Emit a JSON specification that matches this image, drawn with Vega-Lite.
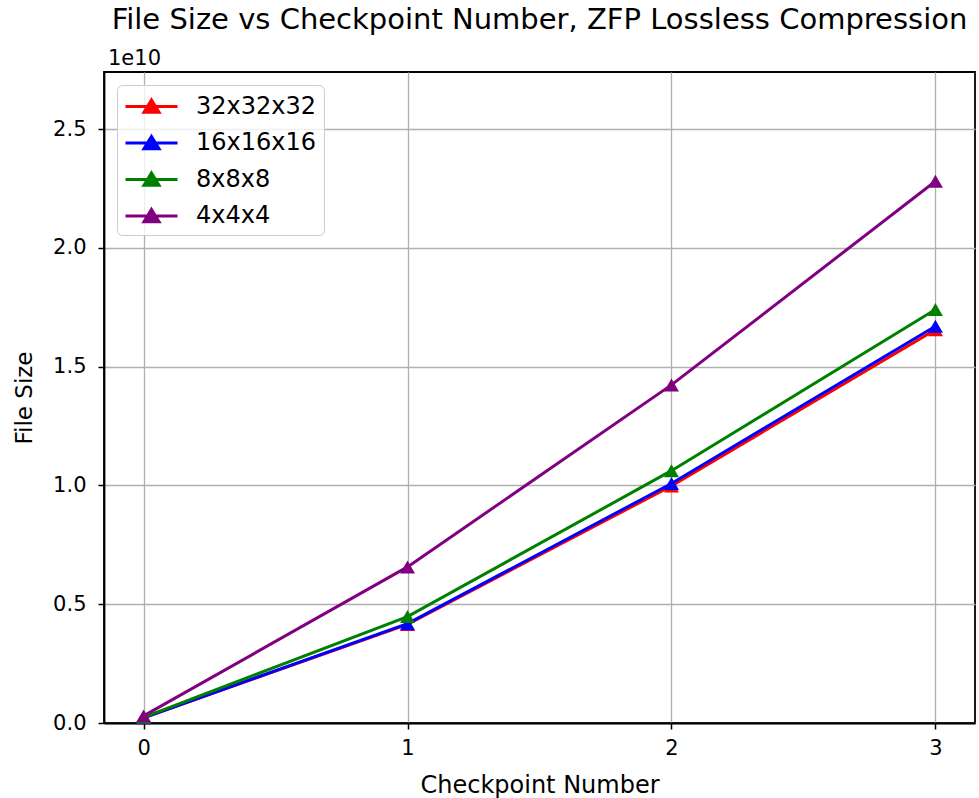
{
  "$schema": "https://vega.github.io/schema/vega-lite/v6.json",
  "autosize": {"type": "none"},
  "width": 871,
  "height": 651,
  "padding": {"left": 104, "top": 72, "right": 4, "bottom": 75},
  "background": "white",
  "title": {
    "text": "File Size vs Checkpoint Number, ZFP Lossless Compression",
    "font": "DejaVu Sans",
    "fontSize": 29,
    "fontWeight": "normal",
    "color": "#000000",
    "anchor": "middle",
    "baseline": "alphabetic",
    "offset": -10
  },
  "config": {
    "font": "DejaVu Sans",
    "view": {"stroke": "#000000", "strokeWidth": 1.8},
    "axis": {
      "labelFont": "DejaVu Sans",
      "titleFont": "DejaVu Sans",
      "labelFontSize": 21,
      "titleFontSize": 24,
      "titleFontWeight": "normal",
      "labelColor": "#000000",
      "titleColor": "#000000",
      "domainColor": "#000000",
      "tickColor": "#000000",
      "tickSize": 6,
      "tickWidth": 1.5,
      "domainWidth": 1.8,
      "gridColor": "#b0b0b0",
      "gridWidth": 1.3,
      "gridOpacity": 1,
      "labelPadding": 9
    }
  },
  "data": {
    "values": [
      {"checkpoint": 0, "size": 0.022e10, "block": "32x32x32"},
      {"checkpoint": 1, "size": 0.415e10, "block": "32x32x32"},
      {"checkpoint": 2, "size": 0.998e10, "block": "32x32x32"},
      {"checkpoint": 3, "size": 1.655e10, "block": "32x32x32"},
      {"checkpoint": 0, "size": 0.022e10, "block": "16x16x16"},
      {"checkpoint": 1, "size": 0.418e10, "block": "16x16x16"},
      {"checkpoint": 2, "size": 1.008e10, "block": "16x16x16"},
      {"checkpoint": 3, "size": 1.67e10, "block": "16x16x16"},
      {"checkpoint": 0, "size": 0.024e10, "block": "8x8x8"},
      {"checkpoint": 1, "size": 0.448e10, "block": "8x8x8"},
      {"checkpoint": 2, "size": 1.062e10, "block": "8x8x8"},
      {"checkpoint": 3, "size": 1.74e10, "block": "8x8x8"},
      {"checkpoint": 0, "size": 0.03e10, "block": "4x4x4"},
      {"checkpoint": 1, "size": 0.657e10, "block": "4x4x4"},
      {"checkpoint": 2, "size": 1.423e10, "block": "4x4x4"},
      {"checkpoint": 3, "size": 2.28e10, "block": "4x4x4"}
    ]
  },
  "layer": [
    {
      "mark": {
        "type": "line",
        "strokeWidth": 3,
        "point": {"shape": "triangle-up", "filled": true, "size": 225, "opacity": 1}
      },
      "encoding": {
        "x": {
          "field": "checkpoint",
          "type": "quantitative",
          "scale": {"domain": [-0.15, 3.15], "nice": false, "zero": false},
          "axis": {"values": [0, 1, 2, 3], "format": "d", "title": "Checkpoint Number", "labelPadding": 8, "titlePadding": 15}
        },
        "y": {
          "field": "size",
          "type": "quantitative",
          "scale": {"domain": [0, 2.74e10], "nice": false},
          "axis": {
            "values": [0, 0.5e10, 1e10, 1.5e10, 2e10, 2.5e10],
            "labelExpr": "format(datum.value/1e10, '.1f')",
            "labelPadding": 12,
            "title": "File Size",
            "titleFontSize": 23,
            "titlePadding": 16
          }
        },
        "color": {
          "field": "block",
          "type": "nominal",
          "sort": ["32x32x32", "16x16x16", "8x8x8", "4x4x4"],
          "scale": {
            "domain": ["32x32x32", "16x16x16", "8x8x8", "4x4x4"],
            "range": ["#ff0000", "#0000ff", "#008000", "#800080"]
          },
          "legend": {
            "title": null,
            "orient": "top-left",
            "offset": 13,
            "padding": 7,
            "fillColor": "rgba(255,255,255,0.8)",
            "strokeColor": "#cccccc",
            "cornerRadius": 5,
            "labelFont": "DejaVu Sans",
            "labelFontSize": 24,
            "labelColor": "#000000",
            "symbolType": "M-1,0H3M1,-0.5L1.58,0.45L0.42,0.45Z",
            "symbolSize": 676,
            "symbolStrokeWidth": 3,
            "rowPadding": 9.5,
            "labelOffset": 43,
            "encode": {
              "symbols": {"update": {"fill": {"scale": "color", "field": "value"}, "opacity": {"value": 1}}}
            }
          }
        },
        "order": {"field": "checkpoint"}
      }
    },
    {
      "data": {"values": [{"label": "1e10"}]},
      "mark": {"type": "text", "align": "left", "baseline": "alphabetic", "dx": 4, "dy": -7, "fontSize": 21, "font": "DejaVu Sans", "color": "#000000"},
      "encoding": {
        "x": {"datum": -0.15},
        "y": {"datum": 2.74e10},
        "text": {"field": "label"}
      }
    }
  ]
}
